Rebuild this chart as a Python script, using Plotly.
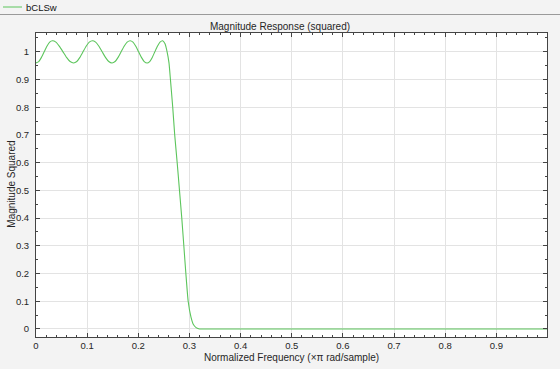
import plotly.graph_objects as go

# Frequency (normalized, x pi rad/sample) and squared magnitude
freq = [0.000, 0.0053, 0.0107, 0.016, 0.0213, 0.0267, 0.032,
        0.0389, 0.0458, 0.0528, 0.0597, 0.0667, 0.0736,
        0.0797, 0.0858, 0.0919, 0.0980, 0.1041, 0.1102,
        0.1166, 0.1230, 0.1294, 0.1358, 0.1422, 0.1487,
        0.1546, 0.1605, 0.1664, 0.1723, 0.1782, 0.1841,
        0.1896, 0.1951, 0.2006, 0.2061, 0.2116, 0.2172,
        0.2222, 0.2273, 0.2323, 0.2374, 0.2424, 0.2477,
        0.2520, 0.2563, 0.2600, 0.2628, 0.2673, 0.2712, 0.2760,
        0.2805, 0.2850, 0.2890, 0.2930, 0.2975, 0.3030, 0.3080,
        0.3130, 0.3180, 0.3230, 0.3300, 0.4000, 0.5000, 0.6000,
        0.7000, 0.8000, 0.9000, 0.9990]
mag2 = [0.960, 0.965, 0.980, 1.000, 1.020, 1.035, 1.040,
        1.035, 1.020, 1.000, 0.980, 0.965, 0.960,
        0.965, 0.980, 1.000, 1.020, 1.035, 1.040,
        1.035, 1.020, 1.000, 0.980, 0.965, 0.960,
        0.965, 0.980, 1.000, 1.020, 1.035, 1.040,
        1.035, 1.020, 1.000, 0.980, 0.965, 0.960,
        0.965, 0.980, 1.000, 1.020, 1.035, 1.040,
        1.030, 1.000, 0.960, 0.900, 0.800, 0.700, 0.600,
        0.500, 0.400, 0.300, 0.200, 0.100, 0.043, 0.015,
        0.005, 0.001, 0.000, 0.000, 0.000, 0.000, 0.000,
        0.000, 0.000, 0.000, 0.000]

x_ticks = [0, 0.1, 0.2, 0.3, 0.4, 0.5, 0.6, 0.7, 0.8, 0.9]
x_ticklabels = ["0", "0.1", "0.2", "0.3", "0.4", "0.5", "0.6", "0.7", "0.8", "0.9"]
y_ticks = [0, 0.1, 0.2, 0.3, 0.4, 0.5, 0.6, 0.7, 0.8, 0.9, 1]
y_ticklabels = ["0", "0.1", "0.2", "0.3", "0.4", "0.5", "0.6", "0.7", "0.8", "0.9", "1"]

series_name = "bCLSw"
chart_title = "Magnitude Response (squared)"
x_title = "Normalized Frequency (×π rad/sample)"
y_title = "Magnitude Squared"
line_color = "#5cc55c"
bg = "#f3f3f3"
font_fam = "Liberation Sans, Arial, Helvetica, sans-serif"
txt = "#262626"

fig = go.Figure()
fig.add_trace(go.Scatter(
    x=freq, y=mag2, mode="lines", name=series_name,
    line=dict(color=line_color, width=1.1, shape="spline", smoothing=0.5),
    showlegend=False,
))

W, H = 560, 369
ml, mr, mt, mb = 36, 13, 33, 32
pw, ph = W - ml - mr, H - mt - mb

def px_x(p):
    return (p - ml) / pw

def px_y(p):
    return (H - mb - p) / ph

axis_common = dict(
    automargin=False,
    showline=True, linecolor="#444444", linewidth=1, mirror="ticks",
    ticks="inside", ticklen=4, tickcolor="#444444", tickwidth=1,
    showgrid=True, gridcolor="#e3e3e3", gridwidth=1, zeroline=False,
    tickfont=dict(size=9.5, color=txt, family=font_fam),
)

fig.update_xaxes(
    range=[0, 0.999], tickvals=x_ticks, ticktext=x_ticklabels,
    minor=dict(ticks="inside", ticklen=2, dtick=0.02, tickcolor="#444444", showgrid=False),
    **axis_common,
)
fig.update_yaxes(
    range=[-0.029, 1.068], tickvals=y_ticks, ticktext=y_ticklabels,
    minor=dict(ticks="inside", ticklen=2, dtick=0.05, tickcolor="#444444", showgrid=False),
    ticklabelstandoff=4,
    **axis_common,
)

fig.update_layout(
    width=W, height=H,
    margin=dict(l=ml, r=mr, t=mt, b=mb),
    paper_bgcolor=bg, plot_bgcolor="white",
    font=dict(family=font_fam),
    title=dict(text=chart_title, x=px_x(ml + pw / 2), xanchor="center",
               y=1 - 26 / H, yanchor="middle",
               font=dict(size=10, color=txt, family=font_fam)),
    shapes=[
        dict(type="line", xref="paper", yref="paper",
             x0=px_x(0), x1=px_x(W), y0=px_y(14.5), y1=px_y(14.5),
             line=dict(color="#9a9a9a", width=1)),
        dict(type="line", xref="paper", yref="paper",
             x0=px_x(3), x1=px_x(22), y0=px_y(7), y1=px_y(7),
             line=dict(color=line_color, width=1)),
    ],
    annotations=[
        dict(text=series_name, xref="paper", yref="paper", x=px_x(23.5), y=px_y(7.5),
             xanchor="left", yanchor="middle", showarrow=False,
             font=dict(size=9.5, color="#111111", family=font_fam)),
        dict(text=x_title, xref="paper", yref="paper", x=px_x(291.5), y=px_y(357.5),
             xanchor="center", yanchor="middle", showarrow=False,
             font=dict(size=10, color=txt, family=font_fam)),
        dict(text=y_title, xref="paper", yref="paper", x=px_x(10.7), y=px_y(184),
             xanchor="center", yanchor="middle", showarrow=False, textangle=-90,
             font=dict(size=10, color=txt, family=font_fam)),
    ],
)

fig.write_html("out.html", post_script="document.body.style.margin='0';",
               config={"displayModeBar": False})
